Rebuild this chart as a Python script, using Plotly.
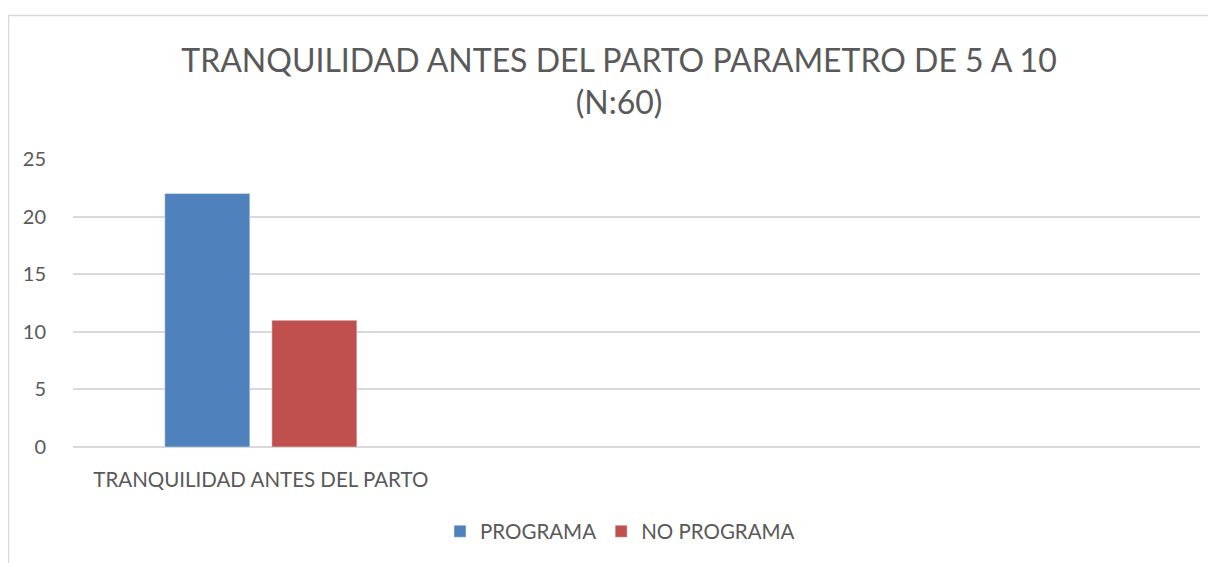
import plotly.graph_objects as go

categories = ["TRANQUILIDAD ANTES DEL PARTO"]
programa = [22]
no_programa = [11]
series_names = ["PROGRAMA", "NO PROGRAMA"]
y_ticks = [0, 5, 10, 15, 20, 25]
title_text = "TRANQUILIDAD ANTES DEL PARTO PARAMETRO DE 5 A 10<br>(N:60)"

FONT = "Lato, Carlito, Calibri, sans-serif"
TXT = "#595959"
GRID = "#d9d9d9"
OFF = 8  # page body margin

fig = go.Figure()
fig.add_trace(go.Bar(x=categories, y=programa, name=series_names[0], marker_color="#4F81BD"))
fig.add_trace(go.Bar(x=categories, y=no_programa, name=series_names[1], marker_color="#C0504D"))

W, H = 1216 - OFF, 563 - OFF
L, T = 73 - OFF, 159 - OFF
R = W - (1200 - OFF)
B = H - (449 - OFF)
pw, ph = W - L - R, H - T - B

def px_x(x):
    return (x - OFF - L) / pw

def px_y(y):
    return (H - B - (y - OFF)) / ph

fig.update_layout(
    width=W, height=H,
    margin=dict(l=L, r=R, t=T, b=B, pad=0),
    paper_bgcolor="white", plot_bgcolor="white",
    barmode="group", bargap=0.43, bargroupgap=0.206,
    font=dict(family=FONT, color=TXT, size=20),
    title=dict(text=title_text, x=(619 - OFF) / W, xref="container", xanchor="center",
               y=1 - 64 / H, yref="container", yanchor="middle",
               font=dict(size=32, color=TXT, family=FONT)),
    legend=dict(orientation="h", x=px_x(620), xanchor="center",
                y=px_y(534), yanchor="middle",
                font=dict(size=20.5, color=TXT), itemwidth=30, traceorder="normal"),
    xaxis=dict(type="category", range=[-0.5, 2.5], showgrid=False, showline=False,
               ticks="outside", ticklen=14, tickcolor="rgba(0,0,0,0)",
               tickfont=dict(size=20.5, color=TXT)),
    yaxis=dict(range=[0, 25], tickvals=y_ticks, showgrid=True, gridcolor=GRID, gridwidth=1.5,
               zeroline=True, zerolinecolor=GRID, zerolinewidth=1.5, showline=False,
               ticks="outside", ticklen=22, tickcolor="rgba(0,0,0,0)",
               tickfont=dict(size=20, color=TXT)),
    shapes=[dict(type="rect", xref="paper", yref="paper",
                 x0=px_x(8.5), x1=px_x(1216 + 20),
                 y0=px_y(563 + 20), y1=px_y(14.5),
                 line=dict(color=GRID, width=1.5), fillcolor="rgba(0,0,0,0)", layer="below")],
)

fig.write_html("out.html")
